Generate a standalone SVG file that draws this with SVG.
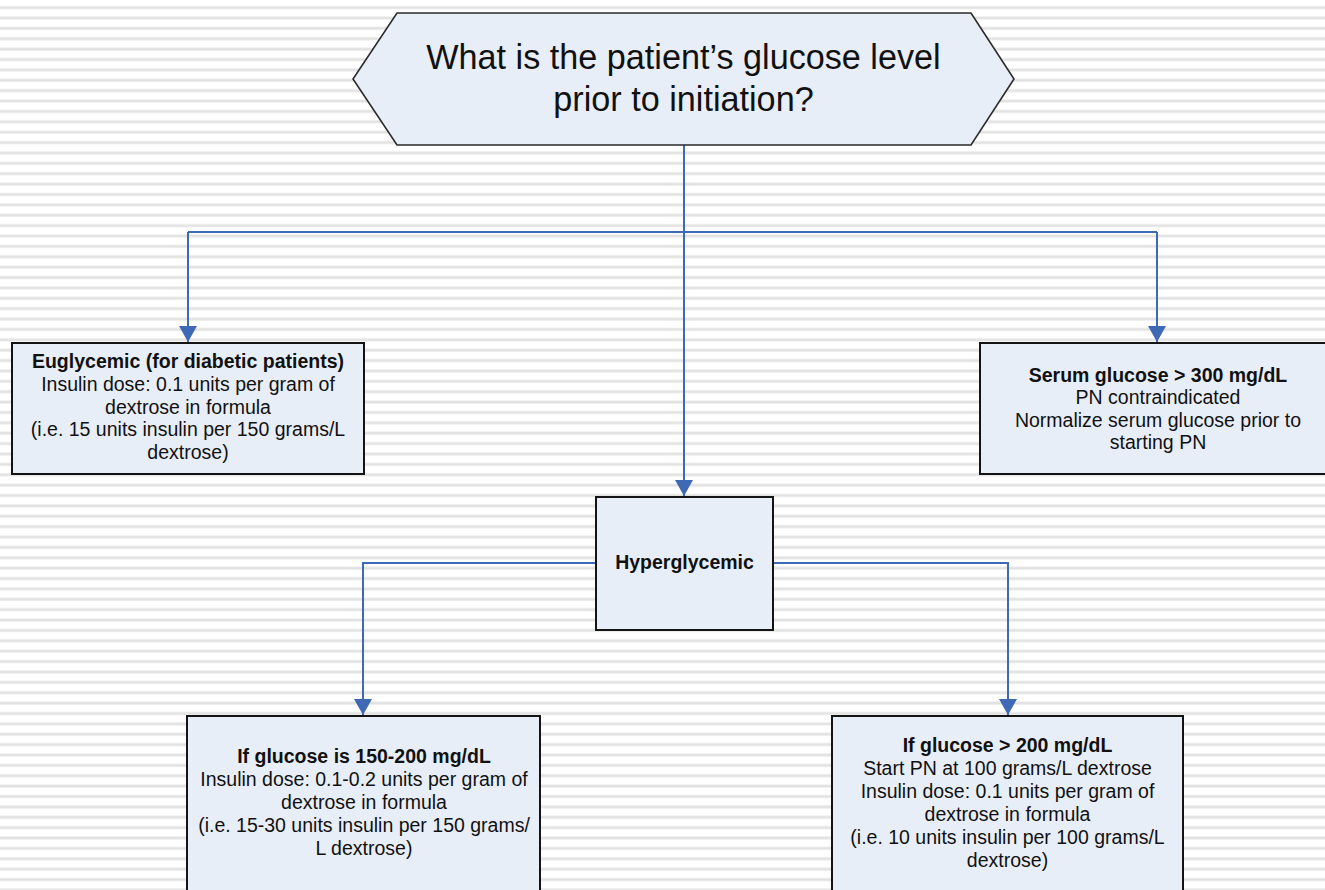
<svg xmlns="http://www.w3.org/2000/svg" width="1325" height="890" viewBox="0 0 1325 890">
<style>
.box{fill:#e8eef8;stroke:#141414;stroke-width:2}
.hex{fill:#e8eef8;stroke:#2a2a2a;stroke-width:1.6}
.t{font-family:"Liberation Sans",Arial,sans-serif;font-size:19.5px;fill:#111;text-anchor:middle}
.b{font-weight:bold}
.q{font-family:"Liberation Sans",Arial,sans-serif;font-size:34.2px;fill:#111;text-anchor:middle}
.c{fill:none;stroke:#3f68b5;stroke-width:2}
</style>
<defs>
<pattern id="stripes" x="0" y="0" width="20" height="10.38" patternUnits="userSpaceOnUse">
<rect x="0" y="0" width="20" height="10.38" fill="#ffffff"/>
<rect x="0" y="5.9" width="20" height="1" fill="#eeeeee"/>
<rect x="0" y="6.9" width="20" height="1.4" fill="#d9d9d9"/>
<rect x="0" y="8.3" width="20" height="1" fill="#ececec"/>
</pattern>
<marker id="arr" markerUnits="userSpaceOnUse" markerWidth="16" markerHeight="18" refX="16" refY="9" orient="auto">
<path d="M0,0 L16,9 L0,18 z" fill="#3f68b5"/>
</marker>
</defs>
<rect x="0" y="0" width="1325" height="890" fill="url(#stripes)"/>

<g id="connectors">
<path class="c" d="M684,145 V496" marker-end="url(#arr)"/>
<path class="c" d="M188,232 H1157"/>
<path class="c" d="M188,232 V342" marker-end="url(#arr)"/>
<path class="c" d="M1157,232 V342" marker-end="url(#arr)"/>
<path class="c" d="M596,563 H363 V715" marker-end="url(#arr)"/>
<path class="c" d="M773,563 H1008 V715" marker-end="url(#arr)"/>
</g>

<g id="question">
<polygon class="hex" points="397,13 971,13 1014,79 971,145 397,145 353,79"/>
<text class="q" x="683.5" y="68.5">What is the patient’s glucose level</text>
<text class="q" x="683.5" y="110.5">prior to initiation?</text>
</g>

<g id="euglycemic">
<rect class="box" x="12" y="343" width="352" height="131"/>
<text class="t b" x="188" y="368">Euglycemic (for diabetic patients)</text>
<text class="t" x="188" y="390.8">Insulin dose: 0.1 units per gram of</text>
<text class="t" x="188" y="413.5">dextrose in formula</text>
<text class="t" x="188" y="436.3">(i.e. 15 units insulin per 150 grams/L</text>
<text class="t" x="188" y="459">dextrose)</text>
</g>

<g id="serum">
<rect class="box" x="980" y="343" width="356" height="131"/>
<text class="t b" x="1158" y="382">Serum glucose &gt; 300 mg/dL</text>
<text class="t" x="1158" y="404">PN contraindicated</text>
<text class="t" x="1158" y="426.5">Normalize serum glucose prior to</text>
<text class="t" x="1158" y="449">starting PN</text>
</g>

<g id="hyperglycemic">
<rect class="box" x="596" y="497" width="177" height="133"/>
<text class="t b" x="684.5" y="568.5">Hyperglycemic</text>
</g>

<g id="glucose150">
<rect class="box" x="187" y="716" width="353" height="190"/>
<text class="t b" x="364" y="763">If glucose is 150-200 mg/dL</text>
<text class="t" x="364" y="786">Insulin dose: 0.1-0.2 units per gram of</text>
<text class="t" x="364" y="809">dextrose in formula</text>
<text class="t" x="364" y="832">(i.e. 15-30 units insulin per 150 grams/</text>
<text class="t" x="364" y="855">L dextrose)</text>
</g>

<g id="glucose200">
<rect class="box" x="832" y="716" width="351" height="190"/>
<text class="t b" x="1007.5" y="752">If glucose &gt; 200 mg/dL</text>
<text class="t" x="1007.5" y="775">Start PN at 100 grams/L dextrose</text>
<text class="t" x="1007.5" y="798">Insulin dose: 0.1 units per gram of</text>
<text class="t" x="1007.5" y="821">dextrose in formula</text>
<text class="t" x="1007.5" y="844">(i.e. 10 units insulin per 100 grams/L</text>
<text class="t" x="1007.5" y="867">dextrose)</text>
</g>
</svg>
